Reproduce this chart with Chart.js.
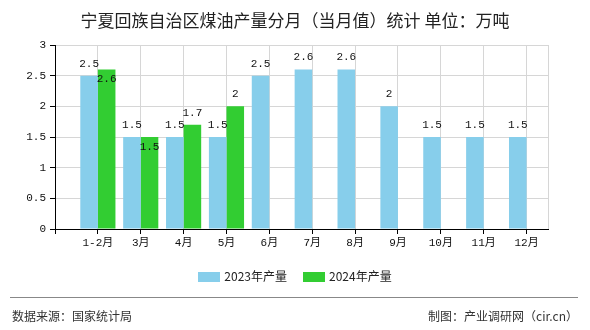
<!DOCTYPE html>
<html>
<head>
<meta charset="utf-8">
<script src="https://cdn.jsdelivr.net/npm/chart.js@4"></script>
<style>
  body { margin: 0; background: #fff; }
  #wrap { position: relative; width: 590px; height: 330px; overflow: hidden; font-family: "Noto Sans CJK SC", sans-serif; color: #222; }
  #chart { position: absolute; left: 0; top: 0; }
  #title { position: absolute; top: 9px; left: 0; width: 590px; text-align: center; font-size: 17px; line-height: 22px; }
  #legend { position: absolute; top: 268px; left: 0; width: 590px; text-align: center; font-size: 12px; line-height: 16px; }
  #legend span.item { display: inline-block; margin: 0 8px; }
  #legend span.box { display: inline-block; width: 22px; height: 10px; vertical-align: -1px; margin-right: 4px; }
  #rule { position: absolute; top: 297px; left: 10px; width: 568px; height: 0; border-top: 1px solid #888; }
  .foot { position: absolute; top: 308px; font-size: 12px; line-height: 16px; color: #333; }
</style>
</head>
<body>
<div id="wrap">
  <canvas id="chart" width="590" height="330"></canvas>
  <div id="title">宁夏回族自治区煤油产量分月（当月值）统计 单位：万吨</div>
  <div id="legend"></div>
  <div id="rule"></div>
  <div class="foot" style="left:12px">数据来源：国家统计局</div>
  <div class="foot" style="right:12px">制图：产业调研网（cir.cn）</div>
</div>
<script>
var categories = ["1-2月", "3月", "4月", "5月", "6月", "7月", "8月", "9月", "10月", "11月", "12月"];
var output2023 = [2.5, 1.5, 1.5, 1.5, 2.5, 2.6, 2.6, 2, 1.5, 1.5, 1.5];
var output2024 = [2.6, 1.5, 1.7, 2, null, null, null, null, null, null, null];
var yTicks = [0, 0.5, 1, 1.5, 2, 2.5, 3];
var seriesNames = ["2023年产量", "2024年产量"];

var seriesColors = ["#87CEEB", "#32CD32"];
var gridColor = "#d6d6d6";
var tickFont = { family: '"Liberation Mono", "Noto Sans CJK SC", monospace', size: 11 };

// bars sit on a numeric x axis so the first month can start one slot in from the y axis
function toPoints(values) {
    return values.map(function (v, i) { return { x: i + 1, y: v }; });
}

// closing grid line along the right side of the plot
var rightEdge = {
    id: "rightEdge",
    beforeDatasetsDraw: function (chart) {
        var a = chart.chartArea, ctx = chart.ctx;
        ctx.save();
        ctx.strokeStyle = gridColor;
        ctx.lineWidth = 1;
        ctx.beginPath();
        ctx.moveTo(Math.round(a.right) + 0.5, a.top);
        ctx.lineTo(Math.round(a.right) + 0.5, a.bottom);
        ctx.stroke();
        ctx.restore();
    }
};

// value text over each bar; drops inside the bar when it would sit on top of the neighbour's text
var valueLabels = {
    id: "valueLabels",
    afterDatasetsDraw: function (chart) {
        var ctx = chart.ctx;
        var firstBars = chart.getDatasetMeta(0).data;
        ctx.save();
        ctx.font = '11px "Liberation Mono", monospace';
        ctx.fillStyle = "#111";
        ctx.textAlign = "center";
        ctx.textBaseline = "middle";
        chart.data.datasets.forEach(function (ds, d) {
            chart.getDatasetMeta(d).data.forEach(function (bar, i) {
                var v = ds.data[i].y;
                if (v === null) return;
                var y = bar.y - 12;
                if (d > 0 && Math.abs(firstBars[i].y - bar.y) < 10) y = bar.y + 10;
                ctx.fillText(String(v), bar.x, y);
            });
        });
        ctx.restore();
    }
};

var chart = new Chart(document.getElementById("chart"), {
    type: "bar",
    data: {
        datasets: [
            { label: seriesNames[0], data: toPoints(output2023), backgroundColor: seriesColors[0] },
            { label: seriesNames[1], data: toPoints(output2024), backgroundColor: seriesColors[1] }
        ]
    },
    options: {
        responsive: false,
        animation: false,
        layout: { padding: { top: 45, right: 42, bottom: 60, left: 0 } },
        datasets: { bar: { categoryPercentage: 0.82, barPercentage: 1 } },
        plugins: { legend: { display: false }, tooltip: { enabled: false } },
        scales: {
            x: {
                type: "linear",
                min: 0,
                max: categories.length + 0.5,
                offset: false,
                grid: { offset: false, color: gridColor, tickColor: "#000", tickLength: 5 },
                border: { color: "#000" },
                ticks: {
                    autoSkip: false,
                    maxRotation: 0,
                    padding: 2,
                    color: "#111",
                    font: tickFont,
                    callback: function (v) { return categories[v - 1] || ""; }
                },
                // one tick per month, plus the corner at the y axis
                afterBuildTicks: function (scale) {
                    var ticks = [{ value: 0 }];
                    categories.forEach(function (c, i) { ticks.push({ value: i + 1 }); });
                    scale.ticks = ticks;
                },
                afterFit: function (scale) { scale.height = 41; }
            },
            y: {
                min: yTicks[0],
                max: yTicks[yTicks.length - 1],
                grid: { color: gridColor, tickColor: "#000", tickLength: 5 },
                border: { color: "#000" },
                ticks: { padding: 4, color: "#111", font: tickFont, callback: function (v) { return String(v); } },
                afterBuildTicks: function (scale) {
                    scale.ticks = yTicks.map(function (v) { return { value: v }; });
                },
                afterFit: function (scale) { scale.width = 55; }
            }
        }
    },
    plugins: [rightEdge, valueLabels]
});

// legend row under the plot
var legendHtml = "";
chart.data.datasets.forEach(function (ds) {
    legendHtml += '<span class="item"><span class="box" style="background:' + ds.backgroundColor + '"></span>' + ds.label + "</span>";
});
document.getElementById("legend").innerHTML = legendHtml;
</script>
</body>
</html>
